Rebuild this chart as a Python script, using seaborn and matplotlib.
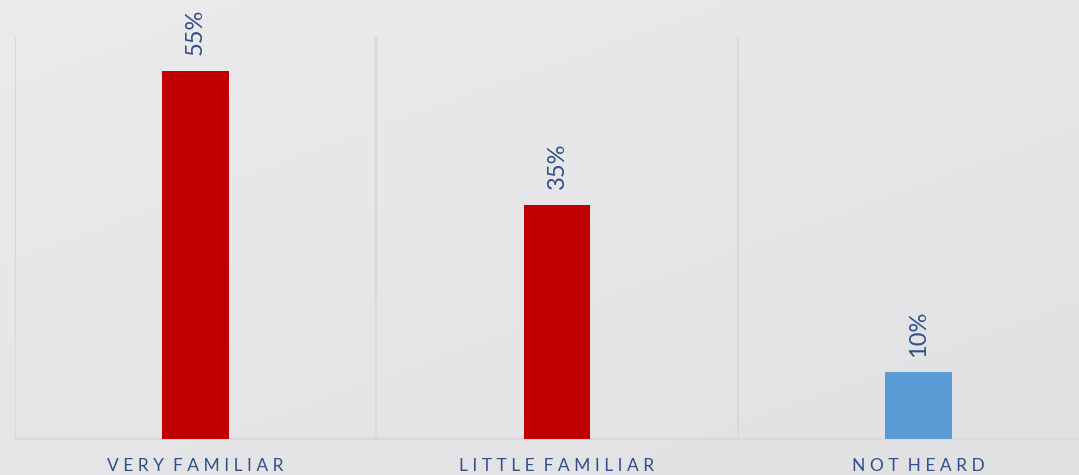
import numpy as np
import pandas as pd
import matplotlib
matplotlib.use("Agg")
import matplotlib.pyplot as plt
import seaborn as sns

# Survey results: awareness level
categories = ["VERY FAMILIAR", "LITTLE FAMILIAR", "NOT HEARD"]
shares = [55, 35, 10]
bar_colors = ["#C00000", "#C00000", "#5B9BD5"]

df = pd.DataFrame({"level": categories, "share": shares})

sns.set_theme(style="white")
plt.rcParams["font.family"] = ["Lato", "DejaVu Sans"]

W, H = 1079, 475
fig = plt.figure(figsize=(W / 100, H / 100), dpi=100)

# soft grey gradient backdrop
bg = fig.add_axes([0, 0, 1, 1], zorder=-10)
yy = np.linspace(0, 1, 200)[:, None]
xx = np.linspace(0, 1, 200)[None, :]
grad = 0.55 * yy + 0.45 * xx
bg.imshow(grad, cmap=matplotlib.colors.LinearSegmentedColormap.from_list(
    "bgg", ["#ebebed", "#e1e1e4"]), aspect="auto", extent=[0, 1, 0, 1],
    origin="upper")
bg.set_axis_off()

left_px, right_px, top_px, base_px = 15, 1099, 37, 439
ax = fig.add_axes([left_px / W, (H - base_px) / H,
                   (right_px - left_px) / W, (base_px - top_px) / H])
ax.patch.set_alpha(0)

sns.barplot(data=df, x="level", y="share", hue="level", palette=bar_colors,
            width=0.185, legend=False, ax=ax, saturation=1, zorder=3,
            linewidth=0, edgecolor="none")

ax.set_ylim(0, 60)
ax.set_xlim(-0.5, len(categories) - 0.5)

# category separators
for b in np.arange(len(categories) + 1) - 0.5:
    ax.axvline(b, color="#d9d9dc", lw=1.6, zorder=1)

for s in ["top", "right", "left"]:
    ax.spines[s].set_visible(False)
ax.spines["bottom"].set_color("#d9d9dc")
ax.spines["bottom"].set_linewidth(1.6)

ax.set_yticks([])
ax.set_xlabel("")
ax.set_ylabel("")

label_color = "#2F4F8A"


def spaced(text):
    return "  ".join(" ".join(word) for word in text.split(" "))


ax.set_xticks(range(len(categories)))
ax.set_xticklabels([spaced(c) for c in categories], fontsize=12.5,
                   color=label_color)
ax.tick_params(axis="x", length=0, pad=14)

for i, v in enumerate(shares):
    ax.annotate(f"{v}%", xy=(i, v), xytext=(0, 11), textcoords="offset points",
                rotation=90, ha="center", va="bottom", fontsize=17,
                color=label_color)

fig.savefig("out.png", dpi=100)
